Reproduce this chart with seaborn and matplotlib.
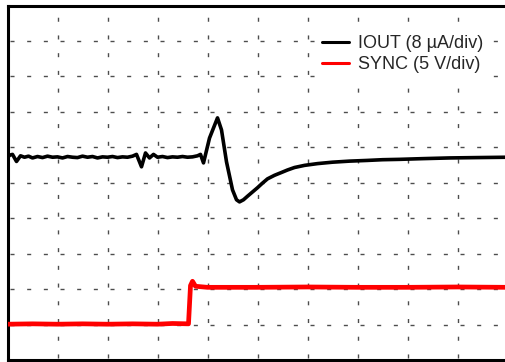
import matplotlib
matplotlib.use("Agg")
import matplotlib.pyplot as plt
import seaborn as sns
import pandas as pd

# Scope capture, values in screen divisions (10 x 10 graticule)
iout_t = [0.00, 0.05, 0.10, 0.18, 0.26, 0.34, 0.42, 0.50, 0.60, 0.70,
          0.80, 0.90, 1.00, 1.10, 1.20, 1.30, 1.40, 1.50, 1.60, 1.70,
          1.80, 1.90, 2.00, 2.10, 2.20, 2.30, 2.40, 2.50, 2.58, 2.68,
          2.76, 2.84, 2.92, 3.00, 3.10, 3.20, 3.30, 3.40, 3.50, 3.60,
          3.70, 3.80, 3.86, 3.92, 4.04, 4.20, 4.28, 4.38, 4.50, 4.58,
          4.64, 4.72, 4.80, 4.90, 5.00, 5.10, 5.20, 5.34, 5.48, 5.60,
          5.74, 5.94, 6.20, 6.50, 6.84, 7.20, 7.50, 7.84, 8.30, 8.84,
          9.40, 10.00]
iout_v = [5.72, 5.78, 5.80, 5.60, 5.76, 5.72, 5.75, 5.70, 5.74, 5.71,
          5.75, 5.72, 5.73, 5.70, 5.74, 5.72, 5.71, 5.75, 5.72, 5.74,
          5.70, 5.73, 5.72, 5.74, 5.71, 5.73, 5.72, 5.75, 5.80, 5.45,
          5.84, 5.70, 5.80, 5.72, 5.74, 5.71, 5.73, 5.72, 5.74, 5.72,
          5.73, 5.76, 5.80, 5.56, 6.26, 6.83, 6.49, 5.59, 4.80, 4.52,
          4.46, 4.52, 4.62, 4.74, 4.86, 4.99, 5.11, 5.21, 5.29, 5.36,
          5.43, 5.49, 5.54, 5.58, 5.61, 5.63, 5.65, 5.66, 5.68, 5.70,
          5.71, 5.72]

sync_t = [0.00, 0.50, 1.00, 1.50, 2.00, 2.50, 3.00, 3.30, 3.62, 3.66,
          3.70, 3.76, 4.00, 5.00, 6.00, 7.00, 8.00, 9.00, 10.00]
sync_v = [1.01, 1.02, 1.01, 1.02, 1.01, 1.02, 1.01, 1.03, 1.02, 2.10,
          2.22, 2.08, 2.05, 2.05, 2.06, 2.05, 2.05, 2.06, 2.05]

labels = ["IOUT (8 \u00b5A/div)", "SYNC (5 V/div)"]

sns.set_style("white")
plt.rcParams["font.family"] = ["Liberation Sans", "DejaVu Sans"]

fig = plt.figure(figsize=(5.05, 3.62), dpi=100)
W, H = 505.0, 362.0
left_px, right_px, top_px, bot_px = 7.5, 507.5, 5.5, 360.0
ax = fig.add_axes([left_px / W, (H - bot_px) / H,
                   (right_px - left_px) / W, (bot_px - top_px) / H])

iout = pd.DataFrame({"t": iout_t, "v": iout_v})
sync = pd.DataFrame({"t": sync_t, "v": sync_v})

sns.lineplot(data=iout, x="t", y="v", ax=ax, color="black",
             linewidth=2.6, estimator=None, label=labels[0], zorder=3)
sns.lineplot(data=sync, x="t", y="v", ax=ax, color="#ff0000",
             linewidth=3.4, estimator=None, label=labels[1], zorder=3)

ax.set_xlim(0, 10)
ax.set_ylim(0, 10)
ax.set_xticks(range(1, 10))
ax.set_yticks(range(1, 10))
ax.tick_params(length=0, labelbottom=False, labelleft=False)
ax.set_xlabel("")
ax.set_ylabel("")

# dashed graticule
ax.xaxis.grid(True, color="0.3", linewidth=1.0,
              linestyle=(11.3, (2.9, 9.86)))
ax.yaxis.grid(True, color="0.3", linewidth=1.0,
              linestyle=(10.55, (2.9, 9.1)))
ax.set_axisbelow(True)

for side in ["left", "top", "bottom", "right"]:
    ax.spines[side].set_visible(True)
    ax.spines[side].set_color("black")
    ax.spines[side].set_linewidth(2.2)

handles, labs = ax.get_legend_handles_labels()
leg = ax.legend(handles, labs, loc="upper left",
                bbox_to_anchor=(316 / W, (H - 29) / H),
                bbox_transform=fig.transFigure, frameon=True,
                fancybox=False, facecolor="white", edgecolor="none",
                framealpha=1.0, fontsize=13, handlelength=1.45,
                handletextpad=0.5, labelspacing=0.2, borderpad=0.35,
                borderaxespad=0)
for ln in leg.get_lines():
    ln.set_linewidth(2.2)

fig.savefig("out.png", dpi=100)
